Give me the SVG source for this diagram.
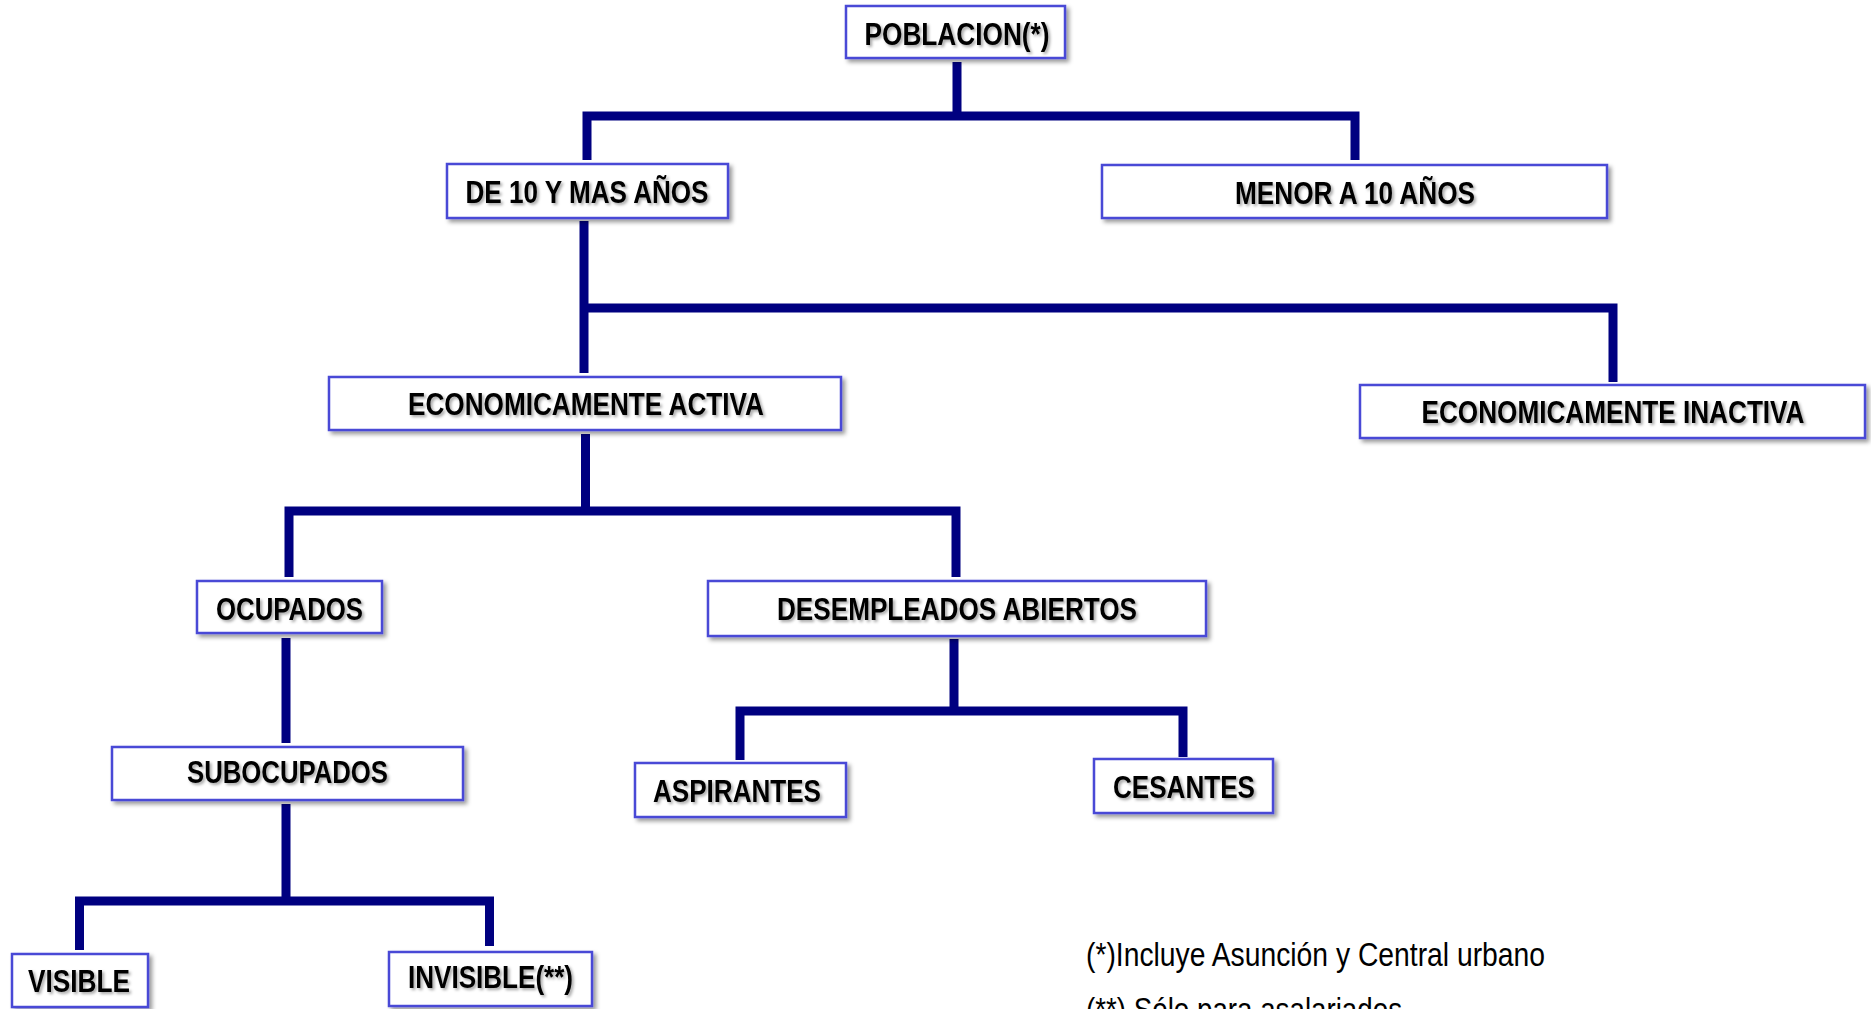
<svg xmlns="http://www.w3.org/2000/svg" width="1871" height="1009" viewBox="0 0 1871 1009">
<defs>
<style>
.box{fill:#ffffff;stroke:#4a4ad6;stroke-width:2.5;filter:url(#bs)}
.lbl{font-family:"Liberation Sans",Arial,sans-serif;font-weight:bold;font-size:32px;fill:#000;text-anchor:middle;filter:url(#ts)}
.note{font-family:"Liberation Sans",Arial,sans-serif;font-size:34px;fill:#000}
.con{fill:none;stroke:#000080;stroke-width:9;stroke-linejoin:miter;stroke-linecap:butt}
</style>
<filter id="bs" x="-10%" y="-20%" width="120%" height="150%">
<feGaussianBlur in="SourceAlpha" stdDeviation="2"/>
<feOffset dx="3" dy="3" result="b"/>
<feFlood flood-color="#000" flood-opacity="0.4"/>
<feComposite in2="b" operator="in"/>
<feMerge><feMergeNode/><feMergeNode in="SourceGraphic"/></feMerge>
</filter>
<filter id="ts" x="-5%" y="-20%" width="110%" height="150%">
<feGaussianBlur in="SourceAlpha" stdDeviation="1.5"/>
<feOffset dx="2" dy="2" result="b"/>
<feFlood flood-color="#000" flood-opacity="0.35"/>
<feComposite in2="b" operator="in"/>
<feMerge><feMergeNode/><feMergeNode in="SourceGraphic"/></feMerge>
</filter>
</defs>
<rect width="1871" height="1009" fill="#ffffff"/>
<g id="connectors">
<path class="con" d="M957 62 V116 M587 160 V116 H1355 V160"/>
<path class="con" d="M584 221 V373 M584 308 H1613 V382"/>
<path class="con" d="M585.5 434 V511 M289 577 V511 H956 V577"/>
<path class="con" d="M286 638 V743"/>
<path class="con" d="M954 639 V711 M740 760 V711 H1183 V757"/>
<path class="con" d="M286 804 V901 M79.5 950 V901 H489.5 V946"/>
</g>
<g id="poblacion"><rect class="box" x="846" y="6" width="219" height="52"/><text class="lbl" x="957" y="45" textLength="185" lengthAdjust="spacingAndGlyphs">POBLACION(*)</text></g>
<g id="de10"><rect class="box" x="447" y="164" width="281" height="54"/><text class="lbl" x="587" y="203" textLength="243" lengthAdjust="spacingAndGlyphs">DE 10 Y MAS AÑOS</text></g>
<g id="menor10"><rect class="box" x="1102" y="165" width="505" height="53"/><text class="lbl" x="1355" y="204" textLength="240" lengthAdjust="spacingAndGlyphs">MENOR A 10 AÑOS</text></g>
<g id="activa"><rect class="box" x="329" y="377" width="512" height="53"/><text class="lbl" x="586" y="415" textLength="356" lengthAdjust="spacingAndGlyphs">ECONOMICAMENTE ACTIVA</text></g>
<g id="inactiva"><rect class="box" x="1360" y="385" width="505" height="53"/><text class="lbl" x="1613" y="423" textLength="383" lengthAdjust="spacingAndGlyphs">ECONOMICAMENTE INACTIVA</text></g>
<g id="ocupados"><rect class="box" x="197" y="581" width="185" height="52"/><text class="lbl" x="289.5" y="620" textLength="147" lengthAdjust="spacingAndGlyphs">OCUPADOS</text></g>
<g id="desempleados"><rect class="box" x="708" y="581" width="498" height="55"/><text class="lbl" x="957" y="620" textLength="360" lengthAdjust="spacingAndGlyphs">DESEMPLEADOS ABIERTOS</text></g>
<g id="subocupados"><rect class="box" x="112" y="747" width="351" height="53"/><text class="lbl" x="287.5" y="783" textLength="201" lengthAdjust="spacingAndGlyphs">SUBOCUPADOS</text></g>
<g id="aspirantes"><rect class="box" x="635" y="763" width="211" height="54"/><text class="lbl" x="737" y="802" textLength="168" lengthAdjust="spacingAndGlyphs">ASPIRANTES</text></g>
<g id="cesantes"><rect class="box" x="1094" y="759" width="179" height="54"/><text class="lbl" x="1184" y="798" textLength="142" lengthAdjust="spacingAndGlyphs">CESANTES</text></g>
<g id="visible"><rect class="box" x="12" y="954" width="136" height="53"/><text class="lbl" x="79" y="992" textLength="102" lengthAdjust="spacingAndGlyphs">VISIBLE</text></g>
<g id="invisible"><rect class="box" x="389" y="952" width="203" height="54"/><text class="lbl" x="490.5" y="988" textLength="165" lengthAdjust="spacingAndGlyphs">INVISIBLE(**)</text></g>
<g id="notes">
<text class="note" x="1086" y="966" textLength="459" lengthAdjust="spacingAndGlyphs">(*)Incluye Asunción y Central urbano</text>
<text class="note" x="1086" y="1021" textLength="316" lengthAdjust="spacingAndGlyphs">(**) Sólo para asalariados</text>
</g>
</svg>
